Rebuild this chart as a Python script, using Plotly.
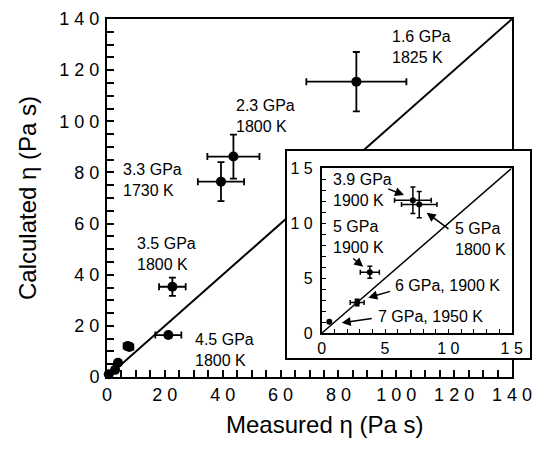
import plotly.graph_objects as go

# ---- data ----
labels = ["1.6 GPa, 1825 K", "2.3 GPa, 1800 K", "3.3 GPa, 1730 K", "3.5 GPa, 1800 K",
          "4.5 GPa, 1800 K", "3.9 GPa, 1900 K", "5 GPa, 1800 K", "5 GPa, 1900 K",
          "6 GPa, 1900 K", "7 GPa, 1950 K"]
measured = [86.2, 43.7, 39.4, 22.6, 21.2, 7.2, 7.7, 3.8, 2.8, 0.6]
calculated = [115.5, 86.2, 76.4, 35.3, 16.4, 12.1, 11.7, 5.55, 2.8, 1.05]
measured_err = [17.3, 9.0, 8.0, 4.6, 4.5, 1.45, 1.4, 0.75, 0.55, 0.0]
calculated_err = [11.6, 8.6, 7.6, 3.6, 1.0, 1.2, 1.2, 0.55, 0.3, 0.0]
inset_idx = [5, 6, 7, 8, 9]

main_ticks = [0, 20, 40, 60, 80, 100, 120, 140]
inset_ticks = [0, 5, 10, 15]
one_to_one = [0, 140]
one_to_one_inset = [0, 15]

FONT = "Liberation Sans, Arial, sans-serif"
W, H = 535, 450


def spaced(v):
    return " ".join(str(v))


def px(x0, x1):
    return [x0 / W, x1 / W]


def py(y_top, y_bot):
    return [1 - y_bot / H, 1 - y_top / H]


fig = go.Figure()

# main 1:1 line
fig.add_trace(go.Scatter(x=one_to_one, y=one_to_one, mode="lines",
                         line=dict(color="black", width=2), xaxis="x", yaxis="y",
                         hoverinfo="skip"))
# main data
fig.add_trace(go.Scatter(
    x=measured, y=calculated, mode="markers", xaxis="x", yaxis="y",
    marker=dict(color="black", size=10),
    error_x=dict(type="data", array=measured_err, color="black", thickness=1.8, width=3.5),
    error_y=dict(type="data", array=calculated_err, color="black", thickness=1.8, width=3.5),
    cliponaxis=False, text=labels))

# inset frame subplot (empty)
fig.add_trace(go.Scatter(x=[None], y=[None], xaxis="x2", yaxis="y2", mode="markers"))

# inset 1:1 line
fig.add_trace(go.Scatter(x=one_to_one_inset, y=one_to_one_inset, mode="lines",
                         line=dict(color="black", width=1.5), xaxis="x3", yaxis="y3",
                         hoverinfo="skip"))
# inset data
fig.add_trace(go.Scatter(
    x=[measured[i] for i in inset_idx], y=[calculated[i] for i in inset_idx],
    mode="markers", xaxis="x3", yaxis="y3",
    marker=dict(color="black", size=6),
    error_x=dict(type="data", array=[measured_err[i] for i in inset_idx],
                 color="black", thickness=1.5, width=2.5),
    error_y=dict(type="data", array=[calculated_err[i] for i in inset_idx],
                 color="black", thickness=1.5, width=2.5),
    cliponaxis=False, text=[labels[i] for i in inset_idx]))

axis_common = dict(showgrid=False, zeroline=False, showline=True, linecolor="black",
                   mirror=True, ticks="inside", tickcolor="black", automargin=False)

fig.update_layout(
    template="none",
    width=W, height=H, margin=dict(l=0, r=0, t=0, b=0, pad=0), autosize=False,
    paper_bgcolor="white", plot_bgcolor="white", showlegend=False,
    font=dict(family=FONT, color="black"),
    xaxis=dict(domain=px(107, 512), range=[0, 140], anchor="y",
               tickmode="array", tickvals=main_ticks, ticktext=[spaced(v) for v in main_ticks],
               ticklen=7, tickwidth=1.5, linewidth=2,
               tickfont=dict(size=18, family=FONT),
               minor=dict(tick0=0, dtick=5, ticks="inside", ticklen=7, tickwidth=1.5,
                          tickcolor="black", showgrid=False),
               **axis_common),
    yaxis=dict(domain=py(19, 377), range=[0, 140], anchor="x",
               tickmode="array", tickvals=main_ticks, ticktext=[spaced(v) for v in main_ticks],
               ticklen=7, tickwidth=1.5, linewidth=2, ticklabelstandoff=2,
               tickfont=dict(size=18, family=FONT),
               minor=dict(tick0=0, dtick=5, ticks="inside", ticklen=7, tickwidth=1.5,
                          tickcolor="black", showgrid=False),
               **axis_common),
    xaxis2=dict(domain=px(287, 530), range=[0, 1], anchor="y2", showgrid=False,
                zeroline=False, showticklabels=False, ticks="", showline=True,
                linecolor="black", linewidth=2, mirror=True, automargin=False),
    yaxis2=dict(domain=py(151, 358), range=[0, 1], anchor="x2", showgrid=False,
                zeroline=False, showticklabels=False, ticks="", showline=True,
                linecolor="black", linewidth=2, mirror=True, automargin=False),
    xaxis3=dict(domain=px(321.7, 511.7), range=[0, 15], anchor="y3",
                tickmode="array", tickvals=inset_ticks,
                ticktext=[spaced(v) for v in inset_ticks],
                ticklen=5, tickwidth=1.2, linewidth=1.5,
                tickfont=dict(size=16, family=FONT),
                minor=dict(tick0=0, dtick=1, ticks="inside", ticklen=5, tickwidth=1.2,
                           tickcolor="black", showgrid=False),
                **axis_common),
    yaxis3=dict(domain=py(168.3, 333.3), range=[0, 15], anchor="x3",
                tickmode="array", tickvals=inset_ticks,
                ticktext=[spaced(v) for v in inset_ticks],
                ticklen=5, tickwidth=1.2, linewidth=1.5, ticklabelstandoff=4,
                tickfont=dict(size=16, family=FONT),
                minor=dict(tick0=0, dtick=1, ticks="inside", ticklen=5, tickwidth=1.2,
                           tickcolor="black", showgrid=False),
                **axis_common),
)

ann_font = dict(size=16, family=FONT, color="black")

# main labels
main_labels = [
    ("1.6 GPa<br>1825 K", 97.8, 129.1),
    ("2.3 GPa<br>1800 K", 44.0, 102.0),
    ("3.3 GPa<br>1730 K", 4.8, 77.0),
    ("3.5 GPa<br>1800 K", 9.7, 48.2),
    ("4.5 GPa<br>1800 K", 29.6, 10.6),
]
for txt, x, y in main_labels:
    fig.add_annotation(text=txt, x=x, y=y, xref="x", yref="y", showarrow=False,
                       xanchor="left", yanchor="middle", align="left", font=ann_font)

# inset labels without arrows
inset_text = [
    ("3.9 GPa<br>1900 K", 0.75, 13.03),
    ("5 GPa<br>1800 K", 10.34, 8.53),
    ("5 GPa<br>1900 K", 0.75, 8.73),
    ("6 GPa, 1900 K", 5.6, 4.33),
    ("7 GPa, 1950 K", 4.25, 1.51),
]
for txt, x, y in inset_text:
    fig.add_annotation(text=txt, x=x, y=y, xref="x3", yref="y3", showarrow=False,
                       xanchor="left", yanchor="middle", align="left", font=ann_font)

# inset arrows (tail -> head)
inset_arrows = [
    (5.13, 13.18, 6.5, 12.57),
    (10.13, 9.39, 8.29, 10.96),
    (2.37, 6.91, 3.28, 6.05),
    (5.52, 3.85, 3.68, 3.24),
    (4.07, 1.36, 1.58, 0.96),
]
for tx, ty, hx, hy in inset_arrows:
    fig.add_annotation(x=hx, y=hy, ax=tx, ay=ty, xref="x3", yref="y3",
                       axref="x3", ayref="y3", text="", showarrow=True,
                       arrowhead=2, arrowsize=1.2, arrowwidth=1.5, arrowcolor="black")

# axis titles
fig.add_annotation(text="Measured \u03b7 (Pa s)", x=324 / W, y=1 - 424 / H,
                   xref="paper", yref="paper", showarrow=False,
                   xanchor="center", yanchor="middle",
                   font=dict(size=24, family=FONT, color="black"))
fig.add_annotation(text="Calculated \u03b7 (Pa s)", x=28 / W, y=1 - 198 / H,
                   xref="paper", yref="paper", showarrow=False, textangle=-90,
                   xanchor="center", yanchor="middle",
                   font=dict(size=24, family=FONT, color="black"))

fig.write_html("out.html")
